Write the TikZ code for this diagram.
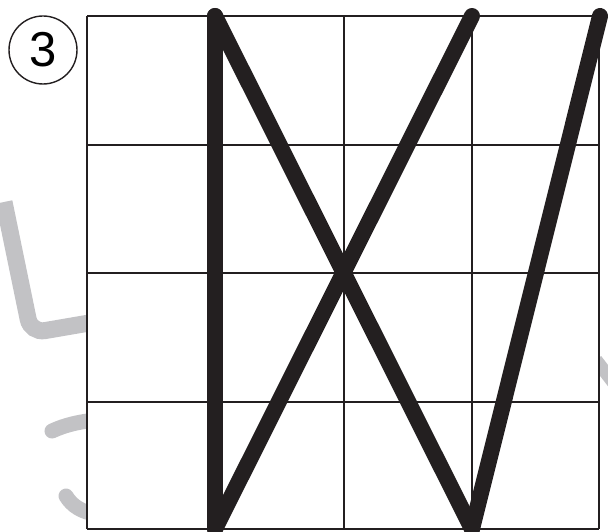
\documentclass[tikz,border=0pt]{standalone}
\usepackage{fontspec}
\newfontfamily\digitfont{Liberation Sans}
\definecolor{ink}{HTML}{231F20}
\definecolor{wm}{HTML}{C2C2C5}
\begin{document}
\begin{tikzpicture}[x=1pt,y=-1pt,
  gridline/.style={draw=ink,line width=2pt},
  heavy/.style={draw=ink,line width=16pt,line cap=round,line join=round},
  watermark/.style={draw=wm,line width=17pt,line cap=round},
  badge/.style={circle,draw=ink,line width=1.4pt,minimum size=68pt,inner sep=0pt,font=\digitfont\fontsize{49}{49}\selectfont}]
\useasboundingbox (0,0) rectangle (608,532);
% watermark strokes
\draw[watermark,line cap=butt,rounded corners=14pt] (4,202) -- (31,333) -- (95,322);
\draw[watermark,line width=15pt] (52,431) .. controls (65,425) and (78,422) .. (95,420);
\draw[watermark,line width=15pt] (66,496) .. controls (72,506) and (82,512) .. (95,514);
\draw[watermark,line width=13pt,line cap=butt] (596,360) -- (616,386);
% grid
\coordinate (g00) at (87,16);
\coordinate (g44) at (599,529);
\fill[white] (g00) rectangle (g44);
\foreach \x in {87,215,344,472,599} \draw[gridline] (\x,16) -- (\x,529);
\foreach \y in {16,145,273,402,529} \draw[gridline] (87,\y) -- (599,\y);
% strokes
\coordinate (t1) at (215,16);
\coordinate (t3) at (472,16);
\coordinate (t4) at (600,16);
\coordinate (b1) at (215,529);
\coordinate (b3) at (472,529);
\draw[heavy] (t1) -- (b1);
\draw[heavy] (t1) -- (b3);
\draw[heavy] (t3) -- (b1);
\draw[heavy] (t4) -- (b3);
% badge
\node[badge] (num) at (43,50) {3};
\end{tikzpicture}
\end{document}
